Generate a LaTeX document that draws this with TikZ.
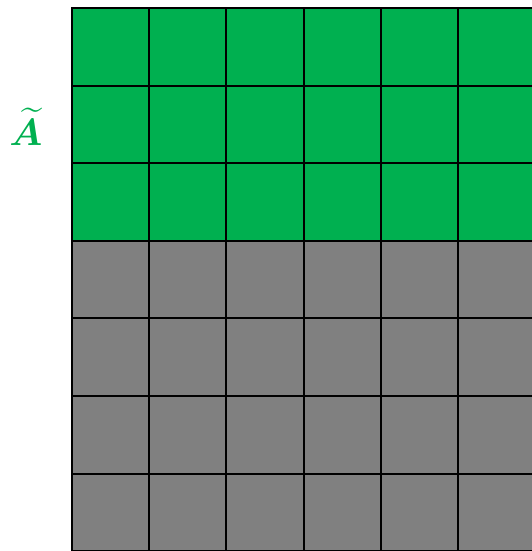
\documentclass[tikz,border=0pt]{standalone}
\usepackage{amsmath,amssymb,bm}
\usepackage{graphicx}
\usepackage{xcolor}
\usepackage{tikz}
\usetikzlibrary{positioning}
\definecolor{cellgreen}{RGB}{0, 176, 80}
\definecolor{cellgray}{RGB}{128, 128, 128}

\begin{document}
\begin{tikzpicture}[x=1pt, y=1pt,
    cellbox/.style={draw=black, line width=2pt, minimum width=77.2pt, minimum height=77.6pt, inner sep=0pt, outer sep=0pt}]
    \useasboundingbox (0,0) rectangle (531,-551);
    % Cells of the matrix
    \foreach \r in {0,...,6} {
        \foreach \c in {0,...,5} {
            \ifnum\r<3 \def\cellcol{cellgreen}\else\def\cellcol{cellgray}\fi
            \node[cellbox, fill=\cellcol, anchor=north west] (cell-\r-\c) at ({72+77.2*\c}, {-8-77.6*\r}) {};
        }
    }
    % Label
    \node[text=cellgreen, inner sep=0pt] (atilde) at (26,-127) {\scalebox{3.8}{$\bm{\widetilde{A}}$}};
\end{tikzpicture}
\end{document}
